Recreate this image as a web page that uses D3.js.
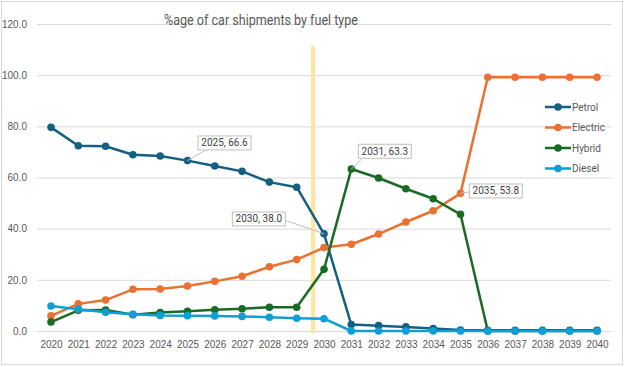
<!DOCTYPE html>
<html>
<head>
<meta charset="utf-8">
<script src="https://cdn.jsdelivr.net/npm/d3@7"></script>
<style>
  body{margin:0;background:#fff;}
  svg{display:block;font-family:"Roboto",sans-serif;}
  .tick text{fill:#595959;font-size:10px;}
</style>
</head>
<body>
<div id="chart"></div>
<script>
const years = d3.range(2020, 2041)
const petrol   = [79.6,72.4,72.2,68.9,68.4,66.6,64.5,62.4,58.2,56.2,38.0,2.5,2.1,1.6,1.0,0.4,0.3,0.3,0.3,0.3,0.3]
const electric = [5.9,10.6,12.1,16.3,16.4,17.6,19.4,21.4,25.1,27.9,32.6,33.9,37.9,42.6,47.0,53.8,99.2,99.2,99.2,99.2,99.2]
const hybrid   = [3.5,8.1,8.2,6.4,7.2,7.7,8.3,8.7,9.3,9.3,24.1,63.3,59.8,55.6,51.7,45.6,0,0,0,0,0]
const diesel   = [9.8,8.5,7.3,6.5,6.1,6.0,5.9,5.7,5.4,5.0,4.8,0,0,0,0,0,0,0,0,0,0]
const seriesNames = ["Petrol","Electric","Hybrid","Diesel"]
const yTicks = [0,20,40,60,80,100,120]
const markerYear = 2029.6
// labelled points: [series index, year]
const callouts = [[0,2025],[0,2030],[2,2031],[1,2035]]

function render(){
  let width = 624,
      height = 367,
      margin = {top:24, left:37, right:13, bottom:36},
      innerW = width - margin.left - margin.right,
      innerH = height - margin.top - margin.bottom
  const colors = ["#156082","#E97132","#196B24","#0F9ED5"]
  const data = [petrol, electric, hybrid, diesel]

  const svg = d3.select("#chart").append("svg")
      .attr("width", width).attr("height", height)
  svg.append("rect").attr("x",1.5).attr("y",1.5).attr("width",width-3).attr("height",height-4)
      .attr("fill","#fff").attr("stroke","#d9d9d9")

  const g = svg.append("g").attr("transform",`translate(${margin.left},${margin.top})`)

  const x = d3.scaleLinear().domain([2020,2040]).range([14, 560])
  const y = d3.scaleLinear().domain([0,120]).range([innerH, 0])

  const yAxis = d3.axisLeft(y).tickValues(yTicks).tickFormat(d3.format(".1f")).tickSize(-innerW).tickPadding(10)
  const yGroup = g.append("g").call(yAxis)
  yGroup.select(".domain").remove()
  yGroup.selectAll(".tick line").attr("stroke","#d9d9d9")

  const xAxis = d3.axisBottom(x).tickValues(years).tickFormat(d3.format("d")).tickSize(0).tickPadding(10)
  const xGroup = g.append("g").attr("transform",`translate(0,${innerH})`).call(xAxis)
  xGroup.select(".domain").remove()

  g.append("line")
      .attr("x1", x(markerYear)).attr("x2", x(markerYear))
      .attr("y1", 22).attr("y2", innerH + 2)
      .attr("stroke","#FFE699").attr("stroke-width",4)

  const line = d3.line().x((d,i)=>x(years[i])).y(d=>y(d))
  data.forEach((vals,k)=>{
    g.append("path").datum(vals).attr("d",line)
        .attr("fill","none").attr("stroke",colors[k]).attr("stroke-width",2.5)
        .attr("stroke-linejoin","round")
    g.selectAll(null).data(vals).enter().append("circle")
        .attr("cx",(d,i)=>x(years[i])).attr("cy",d=>y(d)).attr("r",3.8)
        .attr("fill",colors[k])
  })

  // callouts
  const boxOff = {"0-2025":[10.5,-24.7,8,14],"0-2030":[-91.7,-21.8,52,8],"2-2031":[7,-24.8,4,14],"1-2035":[8.8,-9.4,0,8]}
  callouts.forEach(([s,yr])=>{
    const v = data[s][years.indexOf(yr)]
    const px = x(yr), py = y(v)
    const [dx,dy,ax,ay] = boxOff[`${s}-${yr}`]
    const bx = px+dx, by = py+dy, bw = 53, bh = 14
    g.append("line").attr("x1",px).attr("y1",py).attr("x2",bx+ax).attr("y2",by+ay)
        .attr("stroke","#bfbfbf").attr("stroke-width",1)
    g.append("rect").attr("x",bx).attr("y",by).attr("width",bw).attr("height",bh)
        .attr("fill","#fff").attr("stroke","#bfbfbf")
    g.append("text").attr("x",bx+bw/2).attr("y",by+bh/2).attr("dy","0.35em")
        .attr("text-anchor","middle").attr("fill","#404040").attr("font-size",10)
        .text(`${yr}, ${d3.format(".1f")(v)}`)
  })

  // legend
  const legend = g.append("g").attr("transform",`translate(508,${107-margin.top})`)
  seriesNames.forEach((name,k)=>{
    const row = legend.append("g").attr("transform",`translate(0,${k*20.5})`)
    row.append("line").attr("x1",0).attr("x2",26).attr("stroke",colors[k]).attr("stroke-width",2.5)
    row.append("circle").attr("cx",13).attr("r",3.8).attr("fill",colors[k])
    row.append("text").attr("x",27).attr("dy","0.35em").attr("fill","#595959").attr("font-size",10).text(name)
  })

  svg.append("text").attr("x",261).attr("y",25).attr("text-anchor","middle")
      .attr("fill","#595959").attr("font-size",15)
      .attr("textLength",194).attr("lengthAdjust","spacingAndGlyphs")
      .text("%age of car shipments by fuel type")
}

render()
</script>
</body>
</html>
